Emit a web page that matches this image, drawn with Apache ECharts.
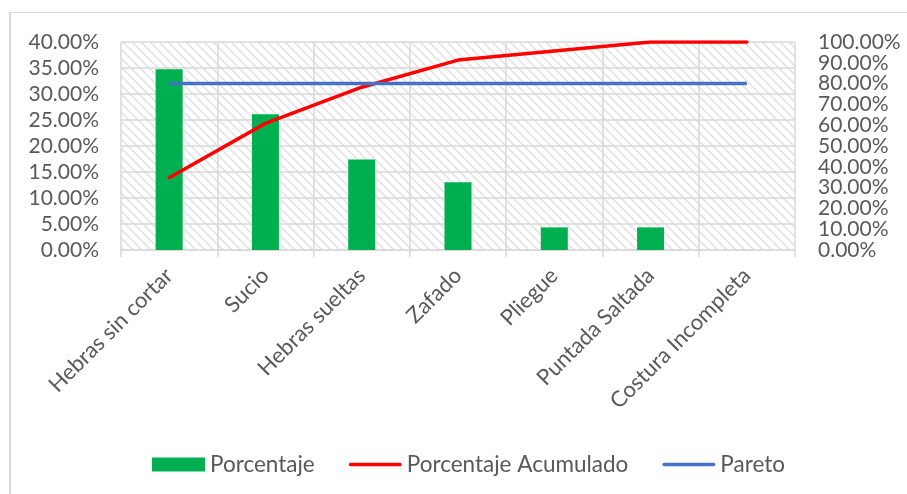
<!DOCTYPE html>
<html>
<head>
<meta charset="utf-8">
<script src="https://cdn.jsdelivr.net/npm/echarts@6/dist/echarts.min.js"></script>
<style>
  html, body { margin: 0; padding: 0; background: #fff; }
  #chart { width: 907px; height: 494px; }
</style>
</head>
<body>
<div id="chart"></div>
<script>
// Defect categories, ordered by frequency
var categories = ['Hebras sin cortar', 'Sucio', 'Hebras sueltas', 'Zafado', 'Pliegue', 'Puntada Saltada', 'Costura Incompleta'];
// Share of each defect (%)
var porcentaje = [34.78, 26.09, 17.39, 13.04, 4.35, 4.35, 0];
// Running total (%)
var acumulado = [34.78, 60.87, 78.26, 91.30, 95.65, 100, 100];
// 80% reference line
var pareto = [80, 80, 80, 80, 80, 80, 80];

var FONT = 'Lato, "Open Sans", sans-serif';
var TEXT = '#595959';
var GRID = '#d9d9d9';

// Diagonal hatch tile for the plot background
function hatchTile() {
  var s = 9;
  var c = document.createElement('canvas');
  c.width = s; c.height = s;
  var g = c.getContext('2d');
  g.fillStyle = '#ffffff';
  g.fillRect(0, 0, s, s);
  g.strokeStyle = '#e4e4e4';
  g.lineWidth = 1.6;
  g.beginPath();
  g.moveTo(-2, -2); g.lineTo(s + 2, s + 2);
  g.moveTo(-2, s - 2); g.lineTo(2, s + 2);
  g.moveTo(s - 2, -2); g.lineTo(s + 2, 2);
  g.stroke();
  return c;
}

// Legend glyph: a thin rounded bar centred in a 53x14 box
var LINE_ICON = 'path://M0,0 M53,14 M1.75,5.25 L51.25,5.25 A1.75,1.75 0 0 1 51.25,8.75 L1.75,8.75 A1.75,1.75 0 0 1 1.75,5.25 Z';

function pct(v) { return v.toFixed(2) + '%'; }

// The right scale's labels sit closer than their height, so they are split
// across two coincident axes (multiples of 20 / odd tens) to keep them all.
function pctEven(v) { return Math.round(v) % 20 === 0 ? pct(v) : ''; }
function pctOdd(v) { return Math.round(v) % 20 === 10 ? pct(v) : ''; }

var labelStyle = { fontFamily: FONT, fontSize: 21, color: TEXT };

var chart = echarts.init(document.getElementById('chart'), null, { renderer: 'canvas' });

chart.setOption({
  animation: false,
  textStyle: { fontFamily: FONT, color: TEXT },
  graphic: [
    { type: 'line', shape: { x1: 10, y1: 12.5, x2: 907, y2: 12.5 }, style: { stroke: GRID, lineWidth: 1 }, silent: true },
    { type: 'line', shape: { x1: 10, y1: 12, x2: 10, y2: 494 }, style: { stroke: GRID, lineWidth: 2 }, silent: true }
  ],
  grid: {
    left: 121, right: 112, top: 42, bottom: 244,
    show: true,
    borderWidth: 0,
    backgroundColor: { image: hatchTile(), repeat: 'repeat' }
  },
  legend: {
    left: 152, top: 453, padding: 0,
    itemWidth: 53, itemHeight: 14, itemGap: 34,
    textStyle: { fontFamily: FONT, fontSize: 22.5, color: TEXT },
    data: [
      { name: 'Porcentaje', icon: 'rect' },
      { name: 'Porcentaje Acumulado', icon: LINE_ICON },
      { name: 'Pareto', icon: LINE_ICON }
    ]
  },
  xAxis: {
    type: 'category',
    data: categories,
    boundaryGap: true,
    axisLine: { lineStyle: { color: GRID, width: 1.5 } },
    axisTick: { show: true, length: 7, lineStyle: { color: GRID, width: 1.5 } },
    splitLine: { show: true, lineStyle: { color: GRID, width: 1.5 } },
    axisLabel: { rotate: 45, interval: 0, fontFamily: FONT, fontSize: 22, color: TEXT, margin: 22 }
  },
  yAxis: [
    {
      type: 'value', min: 0, max: 40, interval: 5,
      axisLine: { show: false }, axisTick: { show: false },
      splitLine: { show: true, lineStyle: { color: GRID, width: 1.5 } },
      axisLabel: Object.assign({ formatter: pct, margin: 22, showMinLabel: true, showMaxLabel: true }, labelStyle)
    },
    {
      type: 'value', position: 'right', min: 0, max: 100, interval: 10,
      axisLine: { show: false }, axisTick: { show: false },
      splitLine: { show: false },
      axisLabel: Object.assign({ formatter: pctEven, margin: 23, showMinLabel: true, showMaxLabel: true }, labelStyle)
    },
    {
      type: 'value', position: 'right', min: 0, max: 100, interval: 10,
      axisLine: { show: false }, axisTick: { show: false },
      splitLine: { show: false },
      axisLabel: Object.assign({ formatter: pctOdd, margin: 23, showMinLabel: false, showMaxLabel: false }, labelStyle)
    }
  ],
  series: [
    {
      name: 'Porcentaje', type: 'bar', yAxisIndex: 0,
      data: porcentaje, barWidth: 27,
      itemStyle: { color: '#00b050' }
    },
    {
      name: 'Porcentaje Acumulado', type: 'line', yAxisIndex: 1,
      data: acumulado, symbol: 'none', smooth: false,
      lineStyle: { color: '#ff0000', width: 3.5, join: 'round', cap: 'round' },
      itemStyle: { color: '#ff0000' }
    },
    {
      name: 'Pareto', type: 'line', yAxisIndex: 1,
      data: pareto, symbol: 'none',
      lineStyle: { color: '#4472c4', width: 3.5 },
      itemStyle: { color: '#4472c4' }
    }
  ]
});
</script>
</body>
</html>
